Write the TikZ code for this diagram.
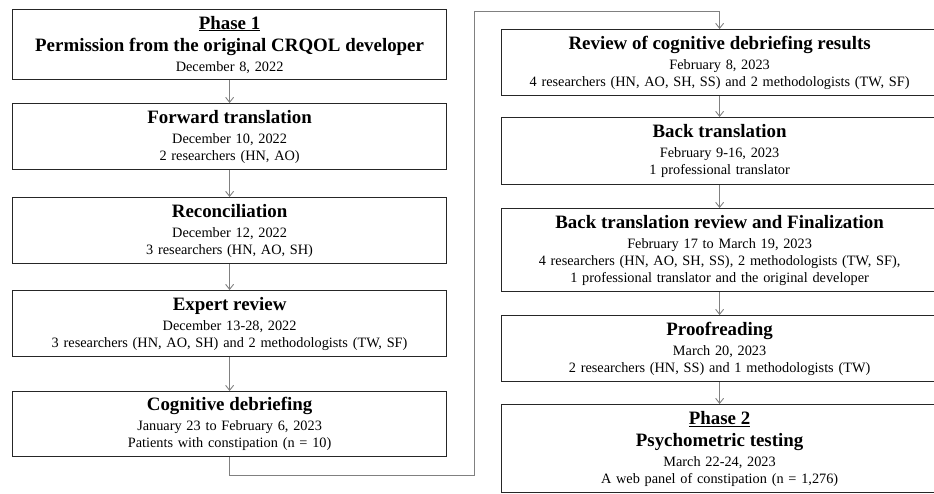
\documentclass[tikz,border=0pt]{standalone}
\usepackage{fontspec}
\setmainfont{Liberation Serif}
\usetikzlibrary{arrows.meta}
\newcommand{\ttl}[1]{{\fontsize{18.9}{20}\selectfont\bfseries #1}}
\begin{document}
\begin{tikzpicture}[x=1pt,y=-1pt,
  box/.style={draw=black!85, line width=1.2pt, fill=white, inner xsep=0pt, inner ysep=2pt,
    align=center, anchor=north west, font=\fontsize{14.3}{17}\selectfont},
  lbox/.style={box, text width=434pt, minimum width=434pt},
  rbox/.style={box, text width=436pt, minimum width=436pt},
  arr/.style={draw=black!50, line width=0.9pt, -{Straight Barb[length=5pt,width=8pt]}},
  conn/.style={draw=black!50, line width=0.9pt}]
\useasboundingbox (0,0) rectangle (934,493);
% left column
\node[lbox, minimum height=70pt] (l1) at (12,9) {\ttl{\underline{Phase 1}}\\[5pt]\ttl{Permission from the original CRQOL developer}\\[3pt]December 8, 2022};
\node[lbox, minimum height=66pt] (l2) at (12,103) {\ttl{Forward translation}\\[3pt]December 10, 2022\\2 researchers (HN, AO)};
\node[lbox, minimum height=66pt] (l3) at (12,197) {\ttl{Reconciliation}\\[3pt]December 12, 2022\\3 researchers (HN, AO, SH)};
\node[lbox, minimum height=66pt] (l4) at (12,290) {\ttl{Expert review}\\[3pt]December 13-28, 2022\\3 researchers (HN, AO, SH) and 2 methodologists (TW, SF)};
\node[lbox, minimum height=65pt] (l5) at (12,391) {\ttl{Cognitive debriefing}\\[3pt]January 23 to February 6, 2023\\Patients with constipation (n = 10)};
% right column
\node[rbox, minimum height=66pt] (r1) at (501,29) {\ttl{Review of cognitive debriefing results}\\[3pt]February 8, 2023\\4 researchers (HN, AO, SH, SS) and 2 methodologists (TW, SF)};
\node[rbox, minimum height=67pt] (r2) at (501,117) {\ttl{Back translation}\\[3pt]February 9-16, 2023\\1 professional translator};
\node[rbox, minimum height=83pt] (r3) at (501,208) {\ttl{Back translation review and Finalization}\\[3pt]February 17 to March 19, 2023\\4 researchers (HN, AO, SH, SS), 2 methodologists (TW, SF),\\1 professional translator and the original developer};
\node[rbox, minimum height=66pt] (r4) at (501,315) {\ttl{Proofreading}\\[3pt]March 20, 2023\\2 researchers (HN, SS) and 1 methodologists (TW)};
\node[rbox, minimum height=88pt] (r5) at (501,404) {\ttl{\underline{Phase 2}}\\[5pt]\ttl{Psychometric testing}\\[3pt]March 22-24, 2023\\A web panel of constipation (n = 1,276)};
% arrows
\draw[arr] (l1.south) -- (l2.north);
\draw[arr] (l2.south) -- (l3.north);
\draw[arr] (l3.south) -- (l4.north);
\draw[arr] (l4.south) -- (l5.north);
\coordinate (c1) at (474,475);
\coordinate (c2) at (474,11);
\draw[arr] (l5.south) |- (c1) -- (c2) -| (r1.north);
\draw[arr] (r1.south) -- (r2.north);
\draw[arr] (r2.south) -- (r3.north);
\draw[arr] (r3.south) -- (r4.north);
\draw[arr] (r4.south) -- (r5.north);
\end{tikzpicture}
\end{document}
